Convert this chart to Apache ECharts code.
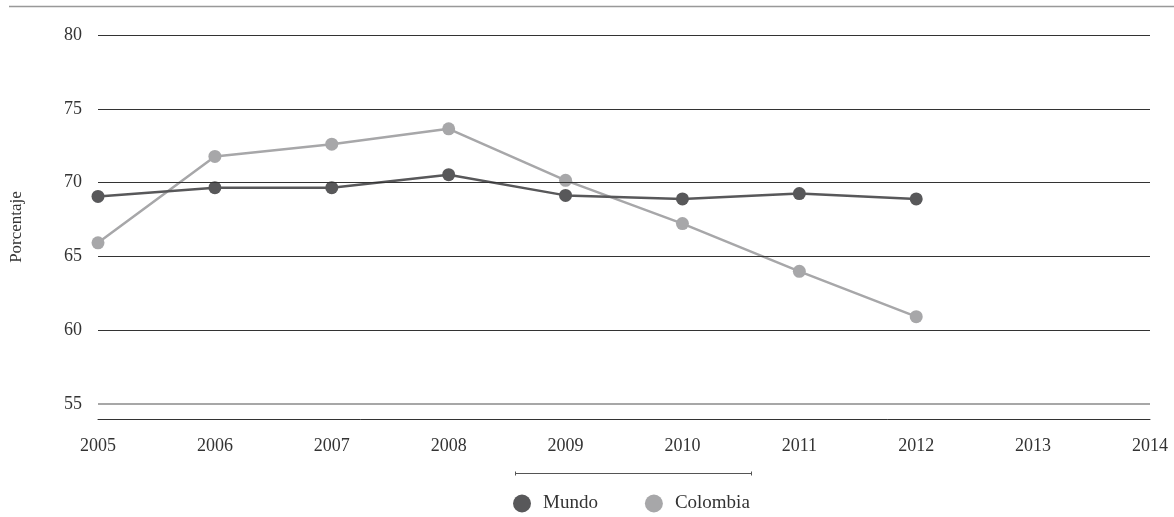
<!DOCTYPE html>
<html>
<head>
<meta charset="utf-8">
<script src="https://cdn.jsdelivr.net/npm/echarts@6/dist/echarts.min.js"></script>
<style>html,body{margin:0;padding:0;background:#fff}#c{width:1174px;height:517px}</style>
</head>
<body>
<div id="c"></div>
<script>
const years = [2005, 2006, 2007, 2008, 2009, 2010, 2011, 2012];
const mundo = [69.07, 69.66, 69.66, 70.54, 69.14, 68.9, 69.26, 68.9];
const colombia = [65.93, 71.78, 72.61, 73.65, 70.16, 67.23, 64.0, 60.93];
const yTicks = [55, 60, 65, 70, 75, 80];
const seriesNames = ['Mundo', 'Colombia'];
const yTitle = 'Porcentaje';

const FONT = '"Liberation Serif", "DejaVu Serif", serif';
const chart = echarts.init(document.getElementById('c'), null, {renderer: 'canvas'});
const pair = (vals) => years.map((y, i) => [y, vals[i]]);

chart.setOption({
  animation: false,
  backgroundColor: '#fff',
  textStyle: {fontFamily: FONT},
  grid: {left: 98, right: 24, top: 35, bottom: 98, containLabel: false},
  xAxis: {
    type: 'value', min: 2005, max: 2014, interval: 1,
    axisLine: {show: true, lineStyle: {color: '#333', width: 1}},
    axisTick: {show: false},
    splitLine: {show: false},
    axisLabel: {color: '#333', fontSize: 18, fontFamily: FONT, margin: 18, formatter: v => String(v)}
  },
  yAxis: {
    type: 'value', min: 54, max: 80, interval: 1,
    name: yTitle, nameLocation: 'middle', nameGap: 73, nameRotate: 90,
    nameTextStyle: {color: '#333', fontSize: 17, fontFamily: FONT},
    axisLine: {show: false}, axisTick: {show: false}, splitLine: {show: false},
    axisLabel: {color: '#333', fontSize: 18, fontFamily: FONT, margin: 16,
      formatter: v => (yTicks.indexOf(v) >= 0 ? String(v) : '')}
  },
  legend: {
    left: 513, top: 494, padding: 0, itemWidth: 18, itemHeight: 18, itemGap: 47,
    icon: 'circle',
    textStyle: {color: '#333', fontSize: 19, fontFamily: FONT, padding: [0, 0, 0, 7]},
    data: seriesNames
  },
  graphic: [
    {type: 'line', shape: {x1: 9, y1: 6.5, x2: 1174, y2: 6.5}, style: {stroke: '#999', lineWidth: 1.5}, silent: true},
    {type: 'line', shape: {x1: 515, y1: 473.5, x2: 752, y2: 473.5}, style: {stroke: '#555', lineWidth: 1}, silent: true},
    {type: 'line', shape: {x1: 515.5, y1: 471.5, x2: 515.5, y2: 475.5}, style: {stroke: '#555', lineWidth: 1}, silent: true},
    {type: 'line', shape: {x1: 751.5, y1: 471.5, x2: 751.5, y2: 475.5}, style: {stroke: '#555', lineWidth: 1}, silent: true}
  ],
  series: [
    {
      name: seriesNames[0], type: 'line', data: pair(mundo), z: 3,
      symbol: 'circle', symbolSize: 13,
      itemStyle: {color: '#58585a'},
      lineStyle: {color: '#58585a', width: 2.5},
      markLine: {
        silent: true, symbol: 'none', label: {show: false}, animation: false,
        data: yTicks.map(v => ({yAxis: v, lineStyle: {color: v === 55 ? '#8a8a8a' : '#333', width: v === 55 ? 1.5 : 1, type: 'solid'}}))
      }
    },
    {
      name: seriesNames[1], type: 'line', data: pair(colombia), z: 2,
      symbol: 'circle', symbolSize: 13,
      itemStyle: {color: '#a7a7a9'},
      lineStyle: {color: '#a7a7a9', width: 2.5}
    }
  ]
});
</script>
</body>
</html>
